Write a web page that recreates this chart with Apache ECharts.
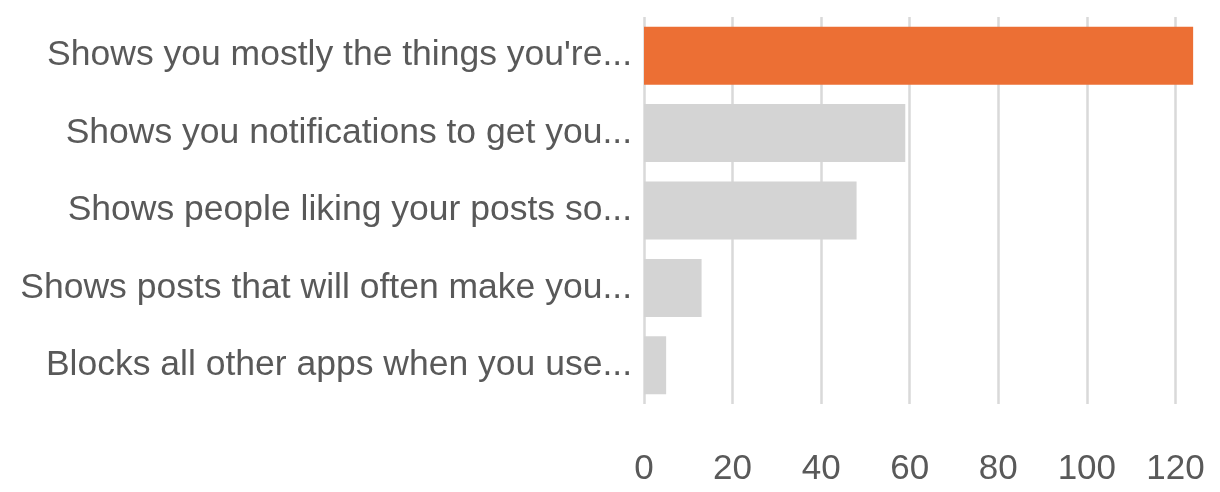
<!DOCTYPE html>
<html>
<head>
<meta charset="utf-8">
<script src="https://cdn.jsdelivr.net/npm/echarts@6/dist/echarts.min.js"></script>
<style>
html,body{margin:0;padding:0;background:#fff;}
#chart{width:1220px;height:492px;}
</style>
</head>
<body>
<div id="chart"></div>
<script>
const categories = [
  "Shows you mostly the things you're...",
  "Shows you notifications to get you...",
  "Shows people liking your posts so...",
  "Shows posts that will often make you...",
  "Blocks all other apps when you use..."
];
const values = [124, 59, 48, 13, 5];
const barColors = ["#EC6F34", "#D4D4D4", "#D4D4D4", "#D4D4D4", "#D4D4D4"];
const xMin = 0, xMax = 140, xStep = 20;

const FONT = "'Liberation Sans', Arial, sans-serif";
const chart = echarts.init(document.getElementById('chart'));
chart.setOption({
  animation: false,
  grid: { left: 644, right: -44, top: 17, bottom: 88, containLabel: false, outerBoundsMode: 'none' },
  xAxis: {
    type: 'value', min: xMin, max: xMax, interval: xStep,
    axisLine: { show: false },
    axisTick: { show: false },
    splitLine: { show: true, lineStyle: { color: '#D9D9D9', width: 2.5 } },
    axisLabel: { show: true, showMaxLabel: false, color: '#595959', fontFamily: FONT, fontSize: 35, margin: 48 }
  },
  yAxis: {
    type: 'category', data: categories, inverse: true,
    axisLine: { show: false },
    axisTick: { show: false },
    axisLabel: { color: '#595959', fontFamily: FONT, fontSize: 35.5, margin: 12 }
  },
  series: [{
    type: 'bar',
    barWidth: 58,
    data: values.map((v, i) => ({ value: v, itemStyle: { color: barColors[i] } }))
  }]
});
</script>
</body>
</html>
